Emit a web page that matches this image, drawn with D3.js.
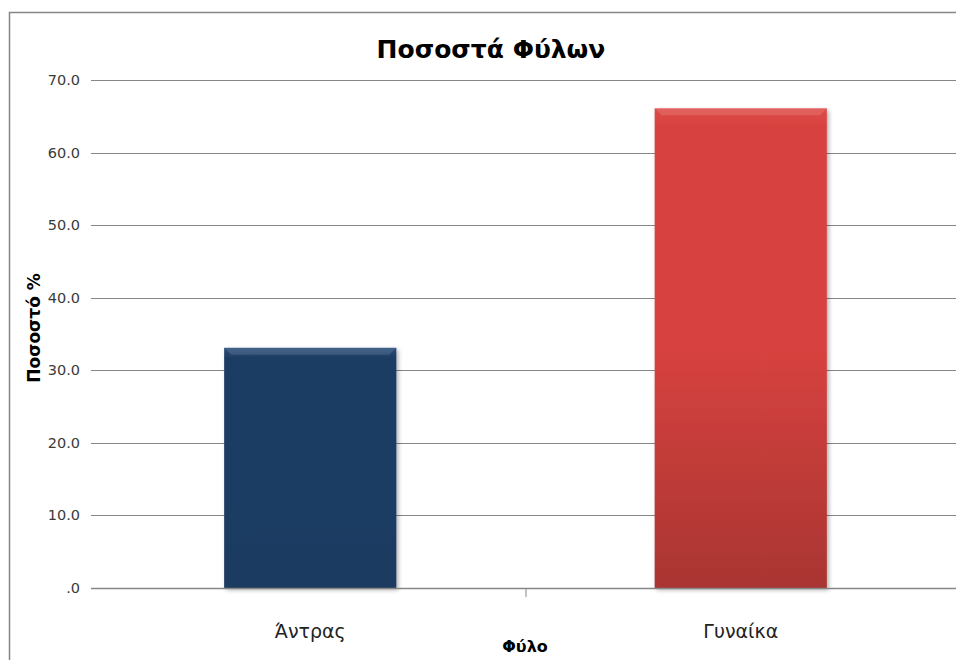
<!DOCTYPE html>
<html>
<head>
<meta charset="utf-8">
<script src="https://cdnjs.cloudflare.com/ajax/libs/d3/7.8.5/d3.min.js"></script>
<style>
body{margin:0;background:#fff;}
svg{display:block;font-family:"DejaVu Sans",Verdana,sans-serif;}
</style>
</head>
<body>
<svg id="chart" width="956" height="660"></svg>
<script>
// δεδομένα
var categories=['Άντρας','Γυναίκα']
var values=[33.1,66.1]
var yTicks=[0,10,20,30,40,50,60,70]
var barTop=['#2a4c79','#de4b47']
var barMid=['#1f3d64','#d7423f']
var barBot=['#1d3a60','#a93532']

var svg=d3.select('#chart')
var W=956,H=660
var m={left:95,right:956,top:80,bottom:588}

// πλαίσιο
svg.append('path')
    .attr('d',`M9.5,${H}V12.5H${W}`)
    .attr('fill','none').attr('stroke','#868686').attr('stroke-width',1.5)

var x=d3.scaleBand().domain(categories).range([m.left,m.right]).paddingInner(0).paddingOuter(0)
var y=d3.scaleLinear().domain([0,70]).range([m.bottom,m.top])

var defs=svg.append('defs')
categories.forEach((c,i)=>{
    var g=defs.append('linearGradient').attr('id','grad'+i).attr('x1',0).attr('y1',0).attr('x2',0).attr('y2',1)
    g.append('stop').attr('offset','0%').attr('stop-color',barTop[i])
    g.append('stop').attr('offset','4%').attr('stop-color',barMid[i])
    g.append('stop').attr('offset','50%').attr('stop-color',barMid[i])
    g.append('stop').attr('offset','100%').attr('stop-color',barBot[i])
})
var f=defs.append('filter').attr('id','shadow').attr('x','-10%').attr('y','-10%').attr('width','130%').attr('height','130%')
f.append('feDropShadow').attr('dx',2).attr('dy',2).attr('stdDeviation',2).attr('flood-color','#000').attr('flood-opacity',0.3)

// γραμμές πλέγματος
svg.append('g').selectAll('line')
    .data(yTicks.filter(d=>d>0))
    .join('line')
    .attr('x1',91).attr('x2',W)
    .attr('y1',d=>Math.round(y(d))+0.5).attr('y2',d=>Math.round(y(d))+0.5)
    .attr('stroke','#868686').attr('stroke-width',1)

// ράβδοι
var bw=x.bandwidth()*0.4
svg.append('g').selectAll('rect')
    .data(values)
    .join('rect')
    .attr('x',(d,i)=>x(categories[i])+x.bandwidth()/2-bw/2)
    .attr('y',d=>y(d))
    .attr('width',bw)
    .attr('height',d=>y(0)-y(d))
    .attr('fill',(d,i)=>`url(#grad${i})`)
    .attr('filter','url(#shadow)')
// ανάγλυφη άκρη
svg.append('g').selectAll('path')
    .data(values)
    .join('path')
    .attr('d',(d,i)=>{
        var x0=x(categories[i])+x.bandwidth()/2-bw/2,x1=x0+bw,t=y(d)
        return `M${x0},${t}L${x0+7},${t+7}L${x1-7},${t+7}L${x1},${t}Z`
    })
    .attr('fill','#fff').attr('opacity',0.12)

// άξονας x
svg.append('line')
    .attr('x1',91).attr('x2',W).attr('y1',588.5).attr('y2',588.5)
    .attr('stroke','#868686').attr('stroke-width',1.5)
svg.append('g').selectAll('line')
    .data(categories.slice(1))
    .join('line')
    .attr('x1',d=>x(d)+0.5).attr('x2',d=>x(d)+0.5)
    .attr('y1',588).attr('y2',597)
    .attr('stroke','#868686')

// ετικέτες y
svg.append('g').selectAll('text')
    .data(yTicks)
    .join('text')
    .attr('x',80).attr('y',d=>y(d)+5)
    .attr('text-anchor','end')
    .attr('font-size',14.5).attr('fill','#3a3a3a')
    .text(d=>d==0?'.0':d.toFixed(1))

// ετικέτες x
svg.append('g').selectAll('text')
    .data(categories)
    .join('text')
    .attr('x',d=>x(d)+x.bandwidth()/2).attr('y',638)
    .attr('text-anchor','middle')
    .attr('font-size',19).attr('fill','#222')
    .text(d=>d)

svg.append('text')
    .attr('x',491).attr('y',58)
    .attr('text-anchor','middle')
    .attr('font-size',25).attr('font-weight','bold')
    .text('Ποσοστά Φύλων')

svg.append('text')
    .attr('x',525).attr('y',652)
    .attr('text-anchor','middle')
    .attr('font-size',16).attr('font-weight','bold')
    .text('Φύλο')

svg.append('text')
    .attr('transform','translate(40,328) rotate(-90)')
    .attr('text-anchor','middle')
    .attr('font-size',17).attr('font-weight','bold')
    .text('Ποσοστό %')
</script>
</body>
</html>
